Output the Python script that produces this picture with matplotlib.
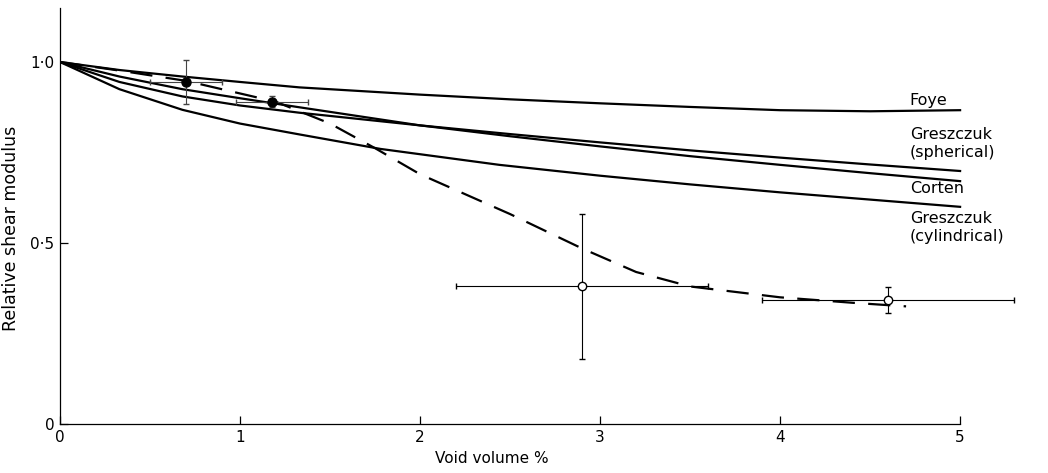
import matplotlib
matplotlib.use("Agg")
import matplotlib.pyplot as plt

# Theory curves (void volume %, relative shear modulus)
foye_x = [0, 0.33, 0.68, 1, 1.33, 2, 2.5, 3, 3.5, 4, 4.5, 5]
foye_y = [1.0, 0.978, 0.96, 0.945, 0.93, 0.91, 0.897, 0.886, 0.876, 0.867, 0.864, 0.867]

sph_x = [0, 0.33, 0.68, 1, 1.33, 2, 2.5, 3, 3.5, 4, 4.5, 5]
sph_y = [1.0, 0.945, 0.905, 0.88, 0.86, 0.825, 0.801, 0.778, 0.756, 0.736, 0.717, 0.699]

corten_x = [0, 0.33, 0.68, 1, 1.33, 2, 2.5, 3, 3.5, 4, 4.5, 5]
corten_y = [1.0, 0.96, 0.925, 0.9, 0.875, 0.825, 0.795, 0.767, 0.74, 0.716, 0.693, 0.671]

cyl_x = [0, 0.33, 0.68, 1, 1.33, 1.78, 2.44, 3, 3.5, 4, 4.5, 5]
cyl_y = [1.0, 0.925, 0.868, 0.83, 0.8, 0.76, 0.716, 0.686, 0.662, 0.64, 0.62, 0.6]

# Dashed trend through experimental points
trend_x = [0, 0.35, 0.7, 1.2, 1.5, 1.75, 2.0, 2.5, 2.9, 3.2, 3.5, 4.0, 4.4, 4.7]
trend_y = [1.0, 0.975, 0.948, 0.89, 0.83, 0.762, 0.69, 0.58, 0.485, 0.42, 0.38, 0.35, 0.335, 0.325]

# Experimental points: filled and open
filled_x = [0.7, 1.18]
filled_y = [0.945, 0.89]
filled_xerr = [[0.2, 0.2], [0.2, 0.2]]
filled_yerr = [[0.06, 0.015], [0.06, 0.015]]

open_x = [2.9, 4.6]
open_y = [0.38, 0.343]
open_xerr = [[0.7, 0.7], [0.7, 0.7]]
open_yerr = [[0.2, 0.035], [0.2, 0.035]]

labels = ["Foye", "Greszczuk\n(spherical)", "Corten", "Greszczuk\n(cylindrical)"]
label_y = [0.895, 0.775, 0.652, 0.543]

xticks = [0, 1, 2, 3, 4, 5]
xtick_labels = ["0", "1", "2", "3", "4", "5"]
yticks = [0, 0.5, 1.0]
ytick_labels = ["0", "0\u00b75", "1\u00b70"]

plt.rcParams['font.family'] = ['DejaVu Sans']

fig = plt.figure(figsize=(10.48, 4.73), dpi=100)
ax = fig.add_axes([0.0573, 0.1036, 0.9447, 0.88])

# theory lines
for xs, ys in [(foye_x, foye_y), (sph_x, sph_y), (corten_x, corten_y), (cyl_x, cyl_y)]:
    ax.plot(xs, ys, color='black', lw=1.6, solid_joinstyle='round')

# dashed trend line
ax.plot(trend_x, trend_y, color='black', lw=1.6, dashes=(10, 6))

# error bars
ax.errorbar(filled_x, filled_y, xerr=filled_xerr, yerr=filled_yerr, fmt='o',
            color='black', ecolor='#444444', elinewidth=0.8, capsize=2.5,
            markersize=6.5, zorder=5)
ax.errorbar(open_x, open_y, xerr=open_xerr, yerr=open_yerr, fmt='o',
            color='black', mfc='white', mec='black', mew=1.0,
            ecolor='black', elinewidth=0.8, capsize=2.5,
            markersize=6, zorder=5)

# curve labels on the right
for txt, yy in zip(labels, label_y):
    ax.text(4.72, yy, txt, fontsize=11.5, ha='left', va='center', linespacing=1.25)

# axes look
ax.set_xlim(0, 5.5)
ax.set_ylim(0, 1.15)
ax.spines['top'].set_visible(False)
ax.spines['right'].set_visible(False)
ax.spines['bottom'].set_bounds(0, 5)
ax.spines['left'].set_linewidth(0.9)
ax.spines['bottom'].set_linewidth(0.9)

ax.set_xticks(xticks)
ax.set_xticklabels(xtick_labels, fontsize=11)
ax.set_yticks(yticks)
ax.set_yticklabels(ytick_labels, fontsize=11)
ax.tick_params(direction='in', length=6, width=0.9, pad=4)

ax.set_xlabel("Void volume %", fontsize=11)
ax.xaxis.set_label_coords(2.4 / 5.5, -0.065)
ax.set_ylabel("Relative shear modulus", fontsize=12.5)
ax.yaxis.set_label_coords(-0.04, 0.47)

plt.savefig("out.png", dpi=100, facecolor='white')
